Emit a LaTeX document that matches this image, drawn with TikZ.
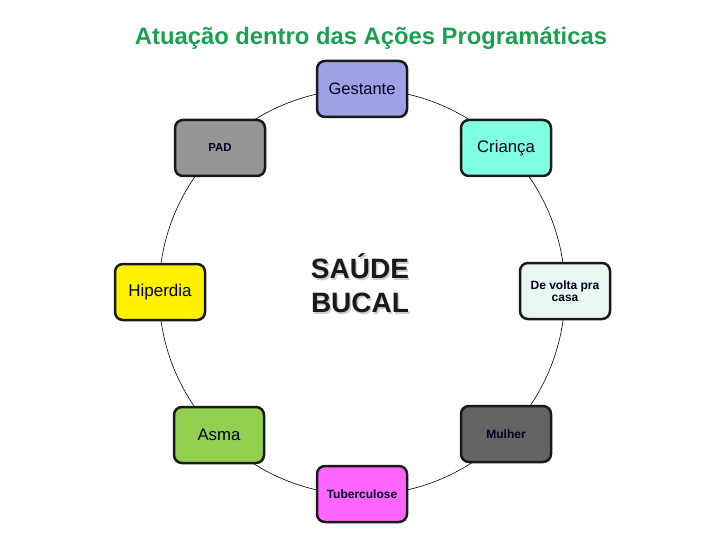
\documentclass[tikz,border=0pt]{standalone}
\usepackage{fontspec}
\setmainfont{Liberation Sans}
\begin{document}
\begin{tikzpicture}[x=1pt,y=-1pt,
  box/.style={draw=black!90,line width=2.5pt,rounded corners=8pt,minimum width=90pt,minimum height=56pt,inner sep=2pt,align=center,text=black!85!blue!90!black},
  ring/.style={draw=black,line width=0.6pt}]
\useasboundingbox (0,0) rectangle (720,540);
\definecolor{ttl}{HTML}{1AA050}
\node[text=ttl,font=\bfseries\fontsize{23.8}{28}\selectfont] (title) at (371,38) {Atuação dentro das Ações Programáticas};
\draw[ring] (362,292) circle [radius=203];
\node[box,fill={rgb,255:red,160;green,160;blue,228},font=\fontsize{16.5}{18}\selectfont] (gest) at (362,89) {Gestante};
\node[box,fill={rgb,255:red,128;green,255;blue,224},font=\fontsize{16.8}{18}\selectfont] (cri) at (506,148) {Criança};
\node[box,fill={rgb,255:red,232;green,248;blue,240},font=\bfseries\fontsize{12}{12.5}\selectfont] (dvc) at (565,291) {De volta pra\\casa};
\node[box,fill={rgb,255:red,100;green,100;blue,100},font=\bfseries\fontsize{12}{14}\selectfont] (mul) at (506,434) {Mulher};
\node[box,fill={rgb,255:red,255;green,102;blue,255},font=\bfseries\fontsize{12}{14}\selectfont] (tub) at (362,494) {Tuberculose};
\node[box,fill={rgb,255:red,146;green,208;blue,80},font=\fontsize{16.8}{18}\selectfont] (asma) at (219,435) {Asma};
\node[box,fill=yellow,font=\fontsize{17}{19}\selectfont] (hip) at (160,292) {Hiperdia};
\node[box,fill={rgb,255:red,150;green,150;blue,150},font=\bfseries\fontsize{11.5}{14}\selectfont] (pad) at (220,148) {PAD};
\node[align=center,text=black!20,font=\bfseries\fontsize{28}{34}\selectfont] at (361.5,285) {SAÚDE\\BUCAL};
\node[align=center,text=black!90,font=\bfseries\fontsize{28}{34}\selectfont] (sb) at (360,283.5) {SAÚDE\\BUCAL};
\end{tikzpicture}
\end{document}
